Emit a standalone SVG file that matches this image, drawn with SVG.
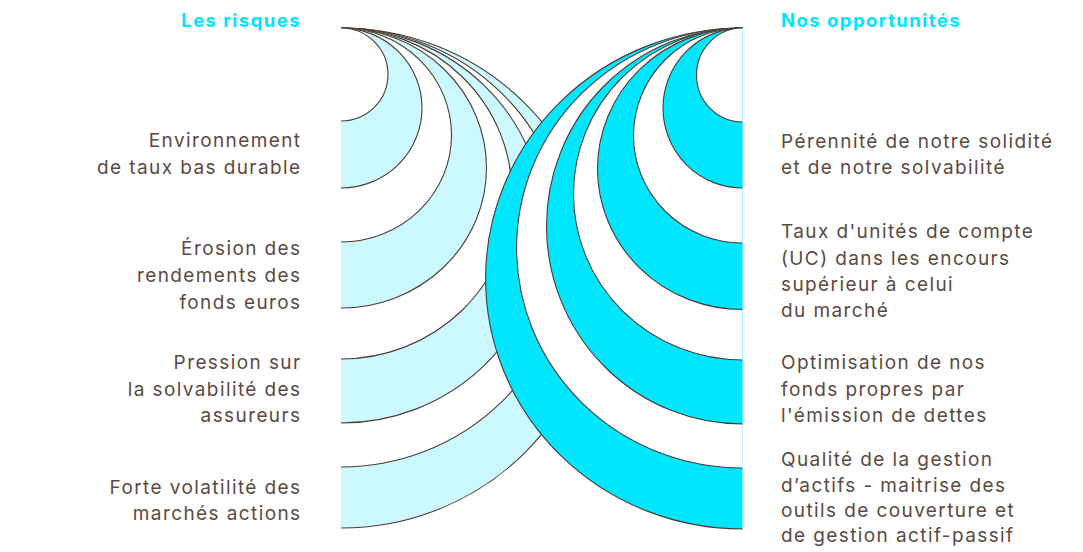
<svg xmlns="http://www.w3.org/2000/svg" width="1083" height="552" viewBox="0 0 1083 552">
<style>
.lt{fill:#CCF9FF}
.bt{fill:#00E6FF}
.wh{fill:#FFFFFF}
.arc path{stroke:#4A3B33;stroke-width:1.1}
text{font-family:Inter,"Noto Sans","Liberation Sans",sans-serif;font-size:19px;letter-spacing:1.4px;fill:#5A4A42}
.title{fill:#00E5FF;font-weight:700;font-size:18.5px;letter-spacing:1.45px}
.l{text-anchor:end}
</style>
<rect width="1083" height="552" fill="#FFFFFF"/>
<g id="connectors" class="arc">
<g id="left-arcs">
<path class="lt" d="M341 28 A257 250 0 0 1 341 528"/>
<path class="wh" d="M341 28 A226 219.5 0 0 1 341 467"/>
<path class="lt" d="M341 28 A203 197.5 0 0 1 341 423"/>
<path class="wh" d="M341 28 A171 165.5 0 0 1 341 359"/>
<path class="lt" d="M341 28 A145.5 140 0 0 1 341 308"/>
<path class="wh" d="M341 28 A110.5 107 0 0 1 341 242"/>
<path class="lt" d="M341 28 A81 80 0 0 1 341 188"/>
<path class="wh" d="M341 28 A47 46.5 0 0 1 341 121"/>
</g>
<g id="right-arcs">
<path class="bt" d="M742.5 28 A257 250.5 0 0 0 742.5 529"/>
<path class="wh" d="M742.5 28 A226 220 0 0 0 742.5 468"/>
<path class="bt" d="M742.5 28 A196 198 0 0 0 742.5 424"/>
<path class="wh" d="M742.5 28 A169 166 0 0 0 742.5 360"/>
<path class="bt" d="M742.5 28 A145 140.75 0 0 0 742.5 309.5"/>
<path class="wh" d="M742.5 28 A109 107.5 0 0 0 742.5 243"/>
<path class="bt" d="M742.5 28 A79.5 80 0 0 0 742.5 188"/>
<path class="wh" d="M742.5 28 A46 47 0 0 0 742.5 122"/>
</g>
</g>
<g id="title-left"><text class="title l" x="301" y="27">Les risques</text></g>
<g id="title-right"><text class="title" x="781" y="27">Nos opportunités</text></g>
<g id="risk-1"><text class="l" x="301.5" y="147">Environnement</text><text class="l" x="301.5" y="174">de taux bas durable</text></g>
<g id="risk-2"><text class="l" x="301.5" y="255">Érosion des</text><text class="l" x="301.5" y="282">rendements des</text><text class="l" x="301.5" y="309">fonds euros</text></g>
<g id="risk-3"><text class="l" x="301.5" y="369">Pression sur</text><text class="l" x="301.5" y="396">la solvabilité des</text><text class="l" x="301.5" y="422">assureurs</text></g>
<g id="risk-4"><text class="l" x="301.5" y="494">Forte volatilité des</text><text class="l" x="301.5" y="520">marchés actions</text></g>
<g id="opp-1"><text x="781" y="148">Pérennité de notre solidité</text><text x="781" y="174">et de notre solvabilité</text></g>
<g id="opp-2"><text x="781" y="238">Taux d'unités de compte</text><text x="781" y="265">(UC) dans les encours</text><text x="781" y="291">supérieur à celui</text><text x="781" y="317">du marché</text></g>
<g id="opp-3"><text x="781" y="369">Optimisation de nos</text><text x="781" y="396">fonds propres par</text><text x="781" y="422">l'émission de dettes</text></g>
<g id="opp-4"><text x="781" y="466">Qualité de la gestion</text><text x="781" y="492">d’actifs - maitrise des</text><text x="781" y="517">outils de couverture et</text><text x="781" y="542">de gestion actif-passif</text></g>
</svg>
